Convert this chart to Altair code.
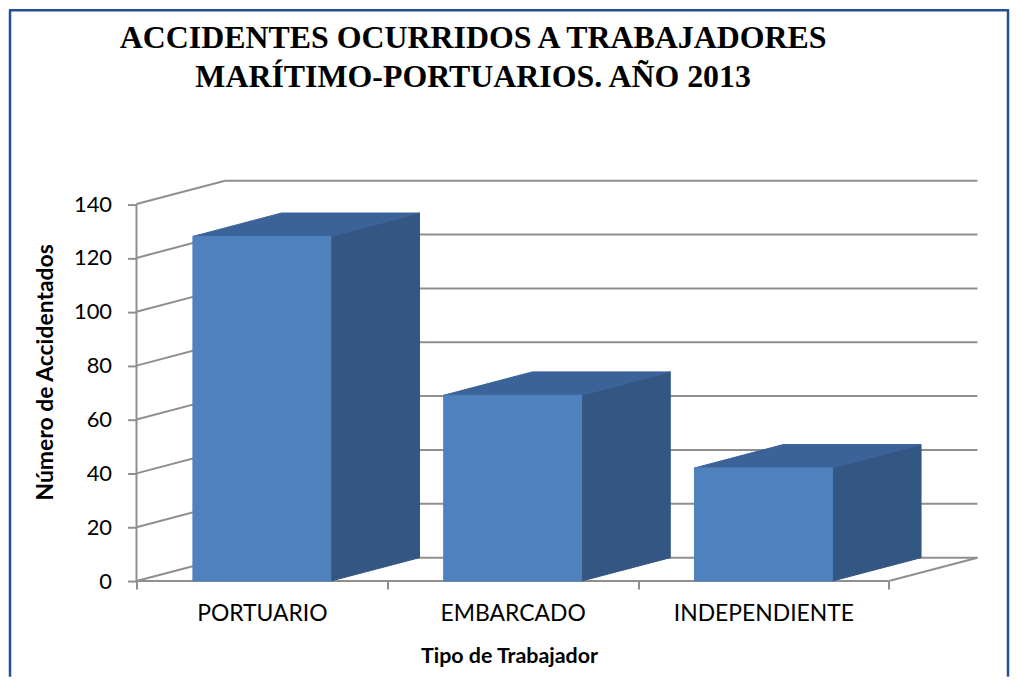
import json
import altair as alt
import pandas as pd

# ---------------- data ----------------
categories = ["PORTUARIO", "EMBARCADO", "INDEPENDIENTE"]
accidents = [128, 69, 42]
y_ticks = [0, 20, 40, 60, 80, 100, 120, 140]

title_lines = ["ACCIDENTES OCURRIDOS A TRABAJADORES", "MARÍTIMO-PORTUARIOS. AÑO 2013"]
x_title = "Tipo de Trabajador"
y_title = "Número de Accidentados"

# ---------------- style / 3D geometry ----------------
PLOT_W, PLOT_H = 851, 402
PAD = {"left": 129, "top": 172, "right": 26, "bottom": 96}
X_MAX = 3.38          # category units (each category = 1 unit)
Y_MAX = 148.7         # value units
DX = 0.3535           # depth offset, x units
DY = 8.68             # depth offset, value units
BAR_L, BAR_R = 0.225, 0.775
N = len(categories)
Y_TOP = y_ticks[-1]

FRONT = "#4F81BD"
TOP = "#3B6299"
SIDE = "#335682"
GRID = "#8F8F8F"
FRAME = "#24508F"
FONT = "Lato"

# ---------------- tables built from the data ----------------
front_rows, side_rows, top_rows = [], [], []
for i, (c, v) in enumerate(zip(categories, accidents)):
    front_rows.append({"cat": c, "x": i + BAR_L, "x2": i + BAR_R, "y": 0, "y2": v})
    side_rows.append({"cat": c, "x": i + BAR_R, "y": v, "y2": 0})
    side_rows.append({"cat": c, "x": i + BAR_R + DX, "y": v + DY, "y2": DY})
    top_rows.append({"cat": c, "y": v, "x": i + BAR_L, "x2": i + BAR_R})
    top_rows.append({"cat": c, "y": v + DY, "x": i + BAR_L + DX, "x2": i + BAR_R + DX})

seg_rows = []
for t in y_ticks:
    seg_rows.append({"x": DX, "y": t + DY, "x2": N + DX, "y2": t + DY})   # back wall
    seg_rows.append({"x": 0, "y": t, "x2": DX, "y2": t + DY})             # side wall
seg_rows.append({"x": 0, "y": 0, "x2": N, "y2": 0})                       # floor front
seg_rows.append({"x": N, "y": 0, "x2": N + DX, "y2": DY})                 # floor right
seg_rows.append({"x": 0, "y": 0, "x2": 0, "y2": Y_TOP})                   # value axis line

front_df = pd.DataFrame(front_rows)
side_df = pd.DataFrame(side_rows)
top_df = pd.DataFrame(top_rows)
seg_df = pd.DataFrame(seg_rows)

xs = alt.Scale(domain=[0, X_MAX], nice=False, zero=False)
ys = alt.Scale(domain=[0, Y_MAX], nice=False, zero=False)

label_expr = json.dumps(categories + [""]) + "[datum.value]"

x_axis = alt.Axis(
    values=list(range(N + 1)), labelExpr=label_expr, labelOffset=PLOT_W / X_MAX / 2,
    labelFlush=False, labelOverlap=False, labelLimit=400, labelFont=FONT,
    labelFontSize=23, labelColor="black", labelPadding=14, tickSize=8,
    tickColor=GRID, tickWidth=2, domain=False, grid=False, title=x_title,
    titleFont=FONT, titleFontSize=21.5, titleFontWeight="bold", titleColor="black",
    titleX=374, titleY=82, titleAlign="center", titleBaseline="alphabetic",
)
y_axis = alt.Axis(
    values=y_ticks, labelFont=FONT, labelFontSize=22, labelColor="black",
    labelPadding=16, tickSize=9, tickColor=GRID, tickWidth=2, domain=False,
    grid=False, labelFlush=False, labelOverlap=False, title=y_title,
    titleFont=FONT, titleFontSize=23, titleFontWeight="bold", titleColor="black",
    titleX=-91, titleY=192, titleAngle=270, titleAlign="center",
    titleBaseline="middle",
)


def X(field, stack=False):
    if stack:
        return alt.X(field, scale=xs, axis=x_axis, stack=None)
    return alt.X(field, scale=xs, axis=x_axis)


def Y(field, stack=False):
    if stack:
        return alt.Y(field, scale=ys, axis=y_axis, stack=None)
    return alt.Y(field, scale=ys, axis=y_axis)


segments = alt.Chart(seg_df).mark_rule(color=GRID, strokeWidth=2).encode(
    x=X("x:Q"), x2="x2:Q", y=Y("y:Q"), y2="y2:Q",
)

side = alt.Chart(side_df).mark_area(
    color=SIDE, stroke=SIDE, strokeWidth=1, orient="vertical", opacity=1
).encode(
    x=X("x:Q"), y=Y("y:Q", stack=True), y2="y2:Q", detail="cat:N",
)

top = alt.Chart(top_df).mark_area(
    color=TOP, stroke=TOP, strokeWidth=1, orient="horizontal", opacity=1
).encode(
    y=Y("y:Q"), x=X("x:Q", stack=True), x2="x2:Q", detail="cat:N",
)

front = alt.Chart(front_df).mark_rect(color=FRONT, stroke=FRONT, strokeWidth=1).encode(
    x=X("x:Q"), x2="x2:Q", y=Y("y:Q"), y2="y2:Q",
)

# outer frame of the chart (decoration, left / top / right)
one = pd.DataFrame({"k": [0]})
bottom_px = PLOT_H + PAD["bottom"]
frame_left = alt.Chart(one).mark_rule(color=FRAME, strokeWidth=2.5).encode(
    x=alt.value(-127), y=alt.value(-171), y2=alt.value(bottom_px))
frame_top = alt.Chart(one).mark_rule(color=FRAME, strokeWidth=2.5).encode(
    x=alt.value(-128), x2=alt.value(876), y=alt.value(-171))
frame_right = alt.Chart(one).mark_rule(color=FRAME, strokeWidth=2.5).encode(
    x=alt.value(875), y=alt.value(-171), y2=alt.value(bottom_px))

chart = alt.layer(
    segments, side, top, front, frame_left, frame_top, frame_right
).properties(
    width=PLOT_W,
    height=PLOT_H,
    autosize="none",
    padding=PAD,
    background="white",
    title=alt.Title(
        text=title_lines, font="Liberation Serif", fontSize=32, fontWeight="bold",
        color="black", anchor="middle", frame="bounds", offset=0, dx=-38, dy=85,
        baseline="top", lineHeight=39,
    ),
).configure_view(stroke=None)

chart.save("out.html", embed_options={"renderer": "svg", "actions": False})
